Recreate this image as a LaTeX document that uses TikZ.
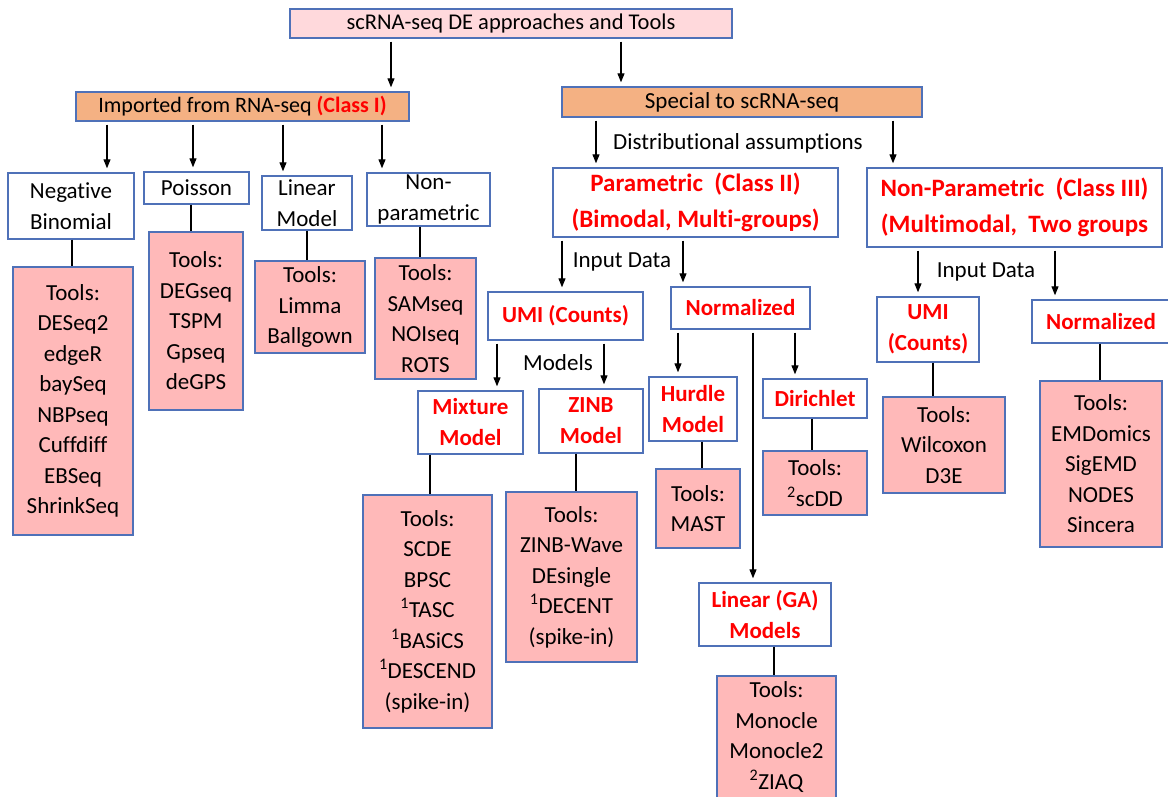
\documentclass[tikz,border=0pt]{standalone}
\usepackage{fontspec}
\setmainfont{Carlito}[Ligatures=NoCommon]
\usetikzlibrary{arrows.meta}
\definecolor{bordblue}{RGB}{79,113,184}
\definecolor{toolpink}{RGB}{255,185,185}
\definecolor{titlepink}{RGB}{255,217,220}
\definecolor{headorange}{RGB}{244,177,131}
\definecolor{txtred}{RGB}{255,0,0}
\begin{document}
\begin{tikzpicture}[x=1pt,y=-1pt,
  every node/.style={font=\fontsize{23}{30.5}\selectfont, align=center, inner sep=0pt},
  box/.style={draw=bordblue, line width=1.4pt, fill=white},
  toolbox/.style={box, fill=toolpink},
  headbox/.style={box, fill=headorange},
  redbf/.style={text=txtred, font=\fontsize{23}{31}\selectfont\bfseries},
  classbf/.style={text=txtred, font=\fontsize{25}{36}\selectfont\bfseries},
  arr/.style={-{Triangle[length=9pt,width=7pt]}, line width=1.1pt, shorten <=3pt, shorten >=4pt},
  link/.style={line width=1.1pt}]
\useasboundingbox (0,0) rectangle (1168,796);
\clip (0,0) rectangle (1168,796);

\node[box, fill=titlepink, minimum width=442pt, minimum height=29pt, font=\fontsize{22.5}{26}\selectfont] (title) at (511,23.5) {scRNA-seq DE approaches and Tools};
\node[headbox, minimum width=333pt, minimum height=29pt, font=\fontsize{22}{26}\selectfont] (imp) at (242.5,106.5) {Imported from RNA-seq \textcolor{txtred}{\bfseries(Class I)}};
\node[headbox, minimum width=360pt, minimum height=30pt] (spec) at (742,102) {Special to scRNA-seq};

\node[box, minimum width=126pt, minimum height=66pt] (nb) at (71,206) {Negative\\Binomial};
\node[box, minimum width=105pt, minimum height=32pt] (pois) at (196.5,188) {Poisson};
\node[box, minimum width=90pt, minimum height=54pt] (linm) at (307,203) {Linear\\Model};
\node[box, minimum width=123pt, minimum height=53pt] (nonp) at (428.5,199.5) {Non-\\parametric};

\node[toolbox, minimum width=120pt, minimum height=268pt] (nbt) at (73,401) {Tools:\\DESeq2\\edgeR\\baySeq\\NBPseq\\Cuffdiff\\EBSeq\\ShrinkSeq};
\node[toolbox, minimum width=94pt, minimum height=178pt] (poist) at (196,321) {Tools:\\DEGseq\\TSPM\\Gpseq\\deGPS};
\node[toolbox, minimum width=110pt, minimum height=92pt] (linmt) at (310,307) {Tools:\\Limma\\Ballgown};
\node[toolbox, minimum width=101pt, minimum height=121pt] (nonpt) at (425.5,318.5) {Tools:\\SAMseq\\NOIseq\\ROTS};

\node[box, classbf, minimum width=285pt, minimum height=69pt] (par) at (695.5,202.5) {Parametric~ (Class II)\\(Bimodal, Multi-groups)};
\node[box, classbf, minimum width=295pt, minimum height=79pt] (npar) at (1014.5,207.5) {Non-Parametric~ (Class III)\\(Multimodal,~ Two groups};
\node (dist) at (738,143) {Distributional assumptions};

\node[box, redbf, minimum width=155pt, minimum height=48pt] (umil) at (565.5,316) {UMI (Counts)};
\node[box, redbf, minimum width=139pt, minimum height=42pt] (norml) at (740.5,308) {Normalized};
\node (inl) at (622,262) {Input Data};
\node (mod) at (558,363) {Models};

\node[box, redbf, minimum width=105pt, minimum height=63pt] (mix) at (470.5,422.5) {Mixture\\Model};
\node[box, redbf, minimum width=104pt, minimum height=64pt] (zinb) at (591,421) {ZINB\\Model};
\node[box, redbf, minimum width=88pt, minimum height=64pt] (hurd) at (693,409) {Hurdle\\Model};
\node[box, redbf, minimum width=104pt, minimum height=39pt] (diri) at (815,398.5) {Dirichlet};
\node[box, redbf, minimum width=132pt, minimum height=63pt] (linga) at (765,614.5) {Linear (GA)\\Models};

\node[toolbox, minimum width=129pt, minimum height=233pt] (mixt) at (427.5,611.5) {Tools:\\SCDE\\BPSC\\\textsuperscript{1}TASC\\\textsuperscript{1}BASiCS\\\textsuperscript{1}DESCEND\\(spike-in)};
\node[toolbox, minimum width=131pt, minimum height=170pt] (zinbt) at (571.5,577) {Tools:\\ZINB-Wave\\DEsingle\\\textsuperscript{1}DECENT\\(spike-in)};
\node[toolbox, minimum width=84pt, minimum height=79pt] (hurdt) at (698,508.5) {Tools:\\MAST};
\node[toolbox, minimum width=104pt, minimum height=64pt] (dirit) at (815,483) {Tools:\\\textsuperscript{2}scDD};
\node[toolbox, minimum width=119pt, minimum height=150pt] (lingat) at (776.5,751) {Tools:\\Monocle\\Monocle2\\\textsuperscript{2}ZIAQ\\ };

\node[box, redbf, minimum width=102pt, minimum height=65pt] (umir) at (928,329.5) {UMI\\(Counts)};
\node[box, redbf, minimum width=138pt, minimum height=43pt] (normr) at (1101,321.5) {Normalized};
\node (inr) at (986,272) {Input Data};
\node[toolbox, minimum width=122pt, minimum height=96pt] (umirt) at (944,445) {Tools:\\Wilcoxon\\D3E};
\node[toolbox, minimum width=122pt, minimum height=166pt] (normrt) at (1101,464) {Tools:\\EMDomics\\SigEMD\\NODES\\Sincera};

\draw[arr] (title.south -| 391,0) -- (imp.north -| 391,0);
\draw[arr] (title.south -| 621,0) -- (spec.north -| 621,0);
\draw[arr] (imp.south -| 107,0) -- (nb.north -| 107,0);
\draw[arr] (imp.south -| 193,0) -- (pois.north -| 193,0);
\draw[arr] (imp.south -| 283,0) -- (linm.north -| 283,0);
\draw[arr] (imp.south -| 382,0) -- (nonp.north -| 382,0);
\draw[link] (nb.south -| 72,0) -- (nbt.north -| 72,0);
\draw[link] (pois.south -| 191,0) -- (poist.north -| 191,0);
\draw[link] (linm.south -| 307,0) -- (linmt.north -| 307,0);
\draw[link] (nonp.south -| 420,0) -- (nonpt.north -| 420,0);

\draw[arr] (spec.south -| 596,0) -- (par.north -| 596,0);
\draw[arr] (spec.south -| 893,0) -- (npar.north -| 893,0);
\draw[arr] (par.south -| 562,0) -- (umil.north -| 562,0);
\draw[arr] (par.south -| 683,0) -- (norml.north -| 683,0);
\draw[arr] (umil.south -| 497,0) -- (mix.north -| 497,0);
\draw[arr] (umil.south -| 604,0) -- (zinb.north -| 604,0);
\draw[arr] (norml.south -| 678,0) -- (hurd.north -| 678,0);
\draw[arr] (norml.south -| 795,0) -- (diri.north -| 795,0);
\draw[arr] (norml.south -| 753,0) -- (linga.north -| 753,0);
\draw[link] (mix.south -| 430,0) -- (mixt.north -| 430,0);
\draw[link] (zinb.south -| 576,0) -- (zinbt.north -| 576,0);
\draw[link] (hurd.south -| 702,0) -- (hurdt.north -| 702,0);
\draw[link] (diri.south -| 812,0) -- (dirit.north -| 812,0);
\draw[link] (linga.south -| 774,0) -- (lingat.north -| 774,0);

\draw[arr] (npar.south -| 918,0) -- (umir.north -| 918,0);
\draw[arr] (npar.south -| 1055,0) -- (normr.north -| 1055,0);
\draw[link] (umir.south -| 933,0) -- (umirt.north -| 933,0);
\draw[link] (normr.south -| 1100,0) -- (normrt.north -| 1100,0);
\end{tikzpicture}
\end{document}
